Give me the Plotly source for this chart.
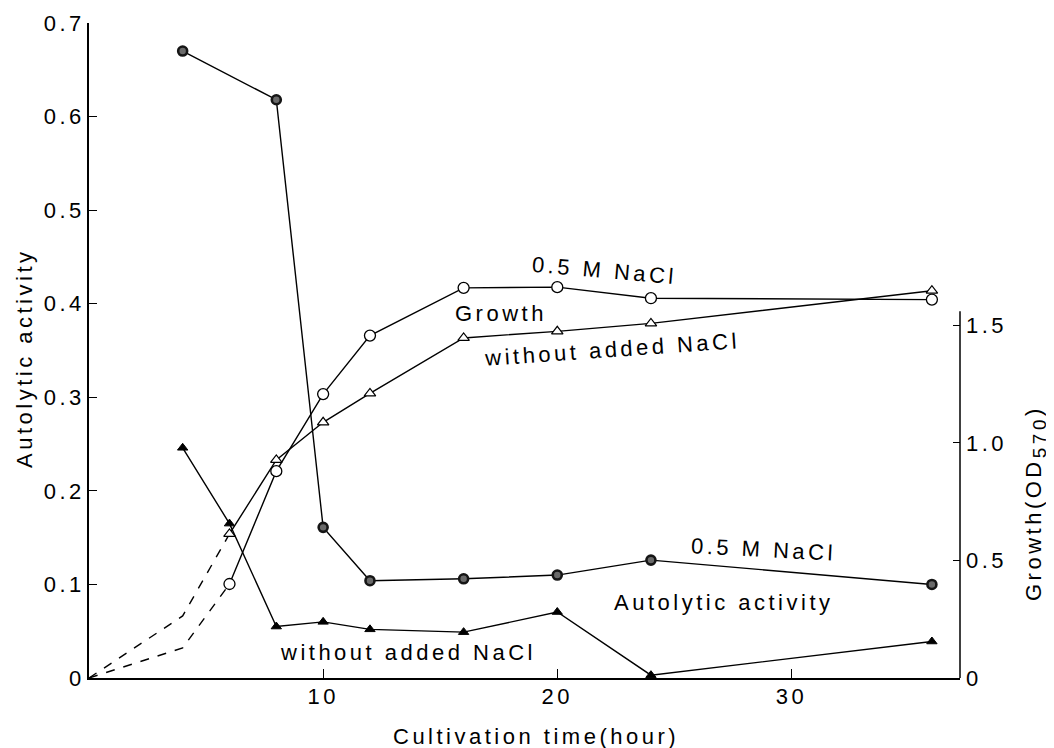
import plotly.graph_objects as go

# ---- data ----
time_auto_nacl = [4, 8, 10, 12, 16, 20, 24, 36]
auto_nacl = [0.670, 0.618, 0.161, 0.104, 0.106, 0.110, 0.126, 0.100]

time_auto_none = [4, 6, 8, 10, 12, 16, 20, 24, 36]
auto_none = [0.246, 0.165, 0.055, 0.060, 0.052, 0.049, 0.0705, 0.003, 0.039]

time_growth = [6, 8, 10, 12, 16, 20, 24, 36]
growth_nacl = [0.40, 0.88, 1.208, 1.457, 1.66, 1.663, 1.616, 1.61]
growth_none = [0.613, 0.928, 1.088, 1.211, 1.447, 1.475, 1.509, 1.648]

time_growth_early = [0, 4, 6]
growth_nacl_early = [0.0, 0.128, 0.40]
growth_none_early = [0.0, 0.264, 0.613]

left_ticks = [0, 0.1, 0.2, 0.3, 0.4, 0.5, 0.6, 0.7]
left_ticktext = ["0", "0.1", "0.2", "0.3", "0.4", "0.5", "0.6", "0.7"]
right_ticks = [0, 0.5, 1.0, 1.5]
right_ticktext = ["0", "0.5", "1.0", "1.5"]
x_ticks = [10, 20, 30]
x_ticktext = ["10", "20", "30"]

FONT = "Liberation Sans, Arial, Helvetica, sans-serif"
FS = 22
LS = 3.5


def sp(t, ls=LS):
    return f'<span style="letter-spacing:{ls}px">{t}</span>'


fig = go.Figure()

LW = 1.4
# dashed early growth
fig.add_trace(go.Scatter(x=time_growth_early, y=growth_nacl_early, yaxis="y2", mode="lines",
                         line=dict(color="black", width=LW, dash="dash"), showlegend=False))
fig.add_trace(go.Scatter(x=time_growth_early, y=growth_none_early, yaxis="y2", mode="lines",
                         line=dict(color="black", width=LW, dash="dash"), showlegend=False))
# growth
fig.add_trace(go.Scatter(x=time_growth, y=growth_nacl, yaxis="y2", mode="lines+markers",
                         line=dict(color="black", width=LW),
                         marker=dict(symbol="circle", size=11, color="white",
                                     line=dict(color="black", width=1.3)), showlegend=False))
fig.add_trace(go.Scatter(x=time_growth, y=growth_none, yaxis="y2", mode="lines+markers",
                         line=dict(color="black", width=LW),
                         marker=dict(symbol="triangle-up", size=10, color="white",
                                     line=dict(color="black", width=1.2)), showlegend=False))
# autolytic activity
fig.add_trace(go.Scatter(x=time_auto_none, y=auto_none, mode="lines+markers",
                         line=dict(color="black", width=LW),
                         marker=dict(symbol="triangle-up", size=9, color="black",
                                     line=dict(color="black", width=1)), showlegend=False))
fig.add_trace(go.Scatter(x=time_auto_nacl, y=auto_nacl, mode="lines+markers",
                         line=dict(color="black", width=LW),
                         marker=dict(symbol="circle", size=9, color="#6a6a6a",
                                     line=dict(color="#151515", width=2.6)), showlegend=False))

# page body adds an 8px offset; size the figure to fill the rest of the window
OFF = 8
W, H = 1054 - OFF, 748 - OFF
# plot area in window pixels: x 89..960, y 23..678
PX0, PX1, PY0, PY1 = 89, 960, 23, 678
L, R, T, B = PX0 - OFF, W - (PX1 - OFF), PY0 - OFF, H - (PY1 - OFF)

fig.update_layout(
    width=W, height=H,
    margin=dict(l=L, r=R, t=T, b=B, autoexpand=False),
    paper_bgcolor="white", plot_bgcolor="white",
    font=dict(family=FONT, size=FS, color="black"),
    showlegend=False,
    xaxis=dict(range=[0, 37.2], showgrid=False, zeroline=False, showline=True,
               linecolor="black", linewidth=1.5, ticks="inside", ticklen=9, tickwidth=1.3,
               tickcolor="black", tickvals=x_ticks, ticktext=[sp(t) for t in x_ticktext],
               ticklabelstandoff=-2),
    yaxis=dict(range=[0, 0.7], showgrid=False, zeroline=False, showline=True,
               linecolor="black", linewidth=1.5, ticks="inside", ticklen=8, tickwidth=1.3,
               tickcolor="black", tickvals=left_ticks, ticktext=[sp(t) for t in left_ticktext],
               ticklabelstandoff=-2),
    yaxis2=dict(range=[0, 2.787], overlaying="y", side="right", showgrid=False,
                zeroline=False, showline=False, ticks="inside", ticklen=7, tickwidth=1.3,
                tickcolor="black", tickvals=right_ticks,
                ticktext=[sp(t) for t in right_ticktext], ticklabelstandoff=5),
)

# right axis line, only up to ~1.56
fig.add_shape(type="line", xref="paper", x0=1, x1=1, yref="y2", y0=0, y1=1.56,
              line=dict(color="black", width=1.5))


def px2paper_x(px):
    return (px - PX0) / (PX1 - PX0)


def px2paper_y(py):
    return (PY1 - py) / (PY1 - PY0)


annots = [
    ("0.5 M NaCl", 604, 270, 5),
    ("Growth", 501, 313, 0),
    ("without added NaCl", 612, 349, -4),
    ("0.5 M NaCl", 763, 549, 3),
    ("Autolytic activity", 724, 602, 0),
    ("without added NaCl", 408, 652, 0),
]
for txt, ax, ay, ang in annots:
    fig.add_annotation(text=sp(txt), x=px2paper_x(ax), y=px2paper_y(ay), xref="paper",
                       yref="paper", showarrow=False, textangle=ang,
                       xanchor="center", yanchor="middle", font=dict(size=FS))

# axis titles
fig.add_annotation(text=sp("Cultivation time(hour)"), x=px2paper_x(536), y=px2paper_y(736),
                   xref="paper", yref="paper", showarrow=False, xanchor="center",
                   yanchor="middle", font=dict(size=FS))
fig.add_annotation(text=sp("Autolytic activity"), x=px2paper_x(24), y=px2paper_y(358),
                   xref="paper", yref="paper", showarrow=False, textangle=-90,
                   xanchor="center", yanchor="middle", font=dict(size=FS))
fig.add_annotation(text=sp('Growth(OD<sub><span style="font-size:19px">570</span></sub>)'),
                   x=px2paper_x(1035), y=px2paper_y(503),
                   xref="paper", yref="paper", showarrow=False, textangle=-90,
                   xanchor="center", yanchor="middle", font=dict(size=FS))

fig.write_html("out.html")
